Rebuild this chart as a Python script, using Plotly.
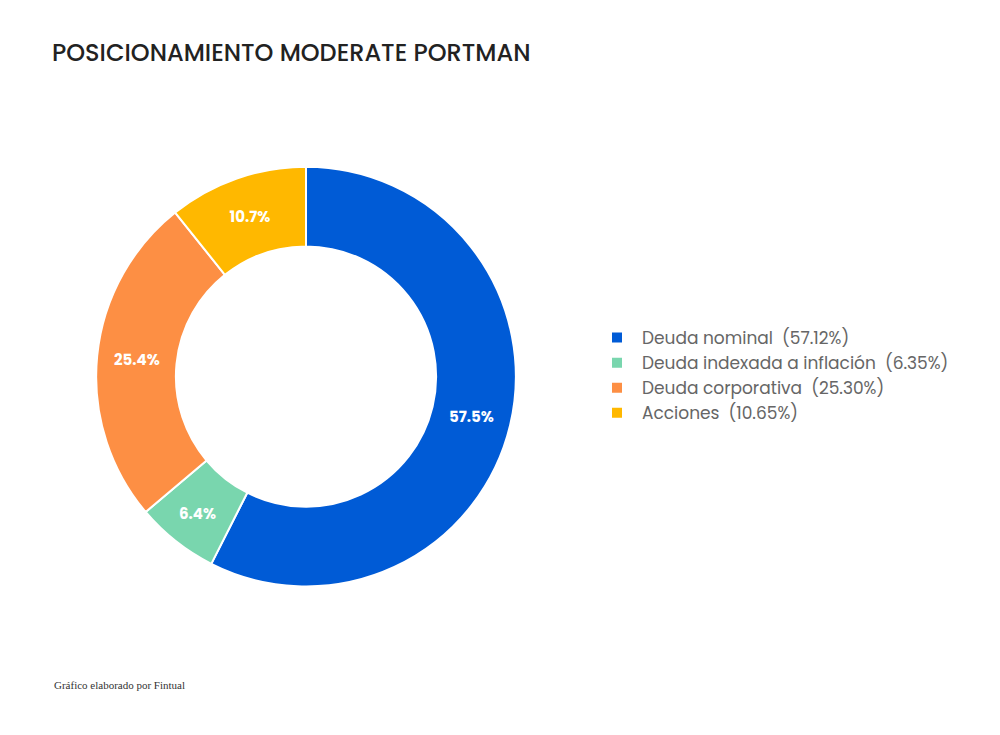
import plotly.graph_objects as go

labels = ["Deuda nominal", "Deuda indexada a inflación", "Deuda corporativa", "Acciones"]
values = [57.12, 6.35, 25.30, 10.65]
colors = ["#005bd6", "#79d6ae", "#fd8f44", "#ffb800"]

legend_names = [f"{l}  ({v:.2f}%)" for l, v in zip(labels, values)]

fig = go.Figure(go.Pie(
    labels=legend_names, values=values, hole=0.62,
    sort=False, direction="clockwise", rotation=0,
    marker=dict(colors=colors, line=dict(color="white", width=2)),
    texttemplate="<b>%{percent:.1%}</b>", textposition="inside",
    insidetextorientation="horizontal",
    textfont=dict(color="white", size=15, family="Poppins, Lato, sans-serif"),
    domain=dict(x=[0.088, 0.508], y=[0.213, 0.784]),
    hoverinfo="label+percent",
))

fig.update_layout(
    width=1000, height=735,
    margin=dict(l=0, r=0, t=0, b=0),
    paper_bgcolor="white", plot_bgcolor="white",
    font=dict(family="Poppins, Lato, sans-serif", color="#666"),
    title=dict(text="POSICIONAMIENTO MODERATE PORTMAN", x=0.044, y=0.94,
               xanchor="left", yanchor="middle",
               font=dict(size=24, color="#222", weight=500)),
    legend=dict(x=0.584, y=0.50, xanchor="left", yanchor="middle",
                font=dict(size=17, color="#666"), itemwidth=40,
                tracegroupgap=4),
    annotations=[dict(text="Gráfico elaborado por Fintual", x=0.044, y=1 - 677 / 735,
                      xref="paper", yref="paper", xanchor="left", yanchor="middle",
                      showarrow=False,
                      font=dict(family="Liberation Serif, serif", size=11, color="#333"))],
)

fig.write_html("out.html")
